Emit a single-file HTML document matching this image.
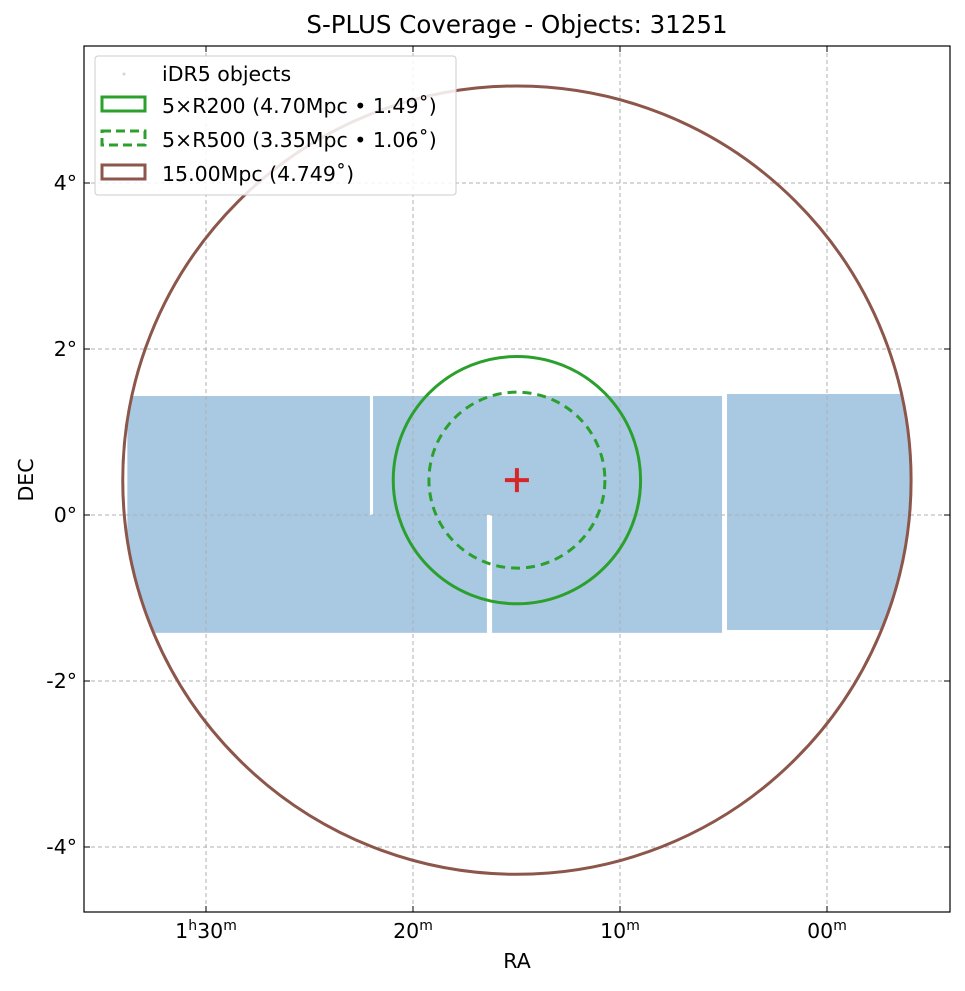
<!DOCTYPE html>
<html><head><meta charset="utf-8"><style>
body{margin:0;background:#fff;font-family:"Liberation Sans","DejaVu Sans",sans-serif}
svg text{font-family:"DejaVu Sans","Liberation Sans",sans-serif;fill:#000}
</style></head><body>
<svg id="chart" width="965" height="986" viewBox="0 0 965 986" xmlns="http://www.w3.org/2000/svg">
<defs><clipPath id="plotclip"><rect x="84" y="46" width="866" height="866"/></clipPath>
<clipPath id="circclip"><circle id="cc" cx="517" cy="480" r="394"/></clipPath></defs>
<rect x="0" y="0" width="965" height="986" fill="#fff"/>
<text x="517" y="33" text-anchor="middle" font-size="24.5">S-PLUS Coverage - Objects: 31251</text>
<g id="tiles" clip-path="url(#circclip)"></g>
<g id="grid"></g>
<g id="circles" clip-path="url(#plotclip)"></g>
<g id="axes"></g>
<text x="517" y="968" text-anchor="middle" font-size="20.5">RA</text>
<text transform="translate(33,480) rotate(-90)" text-anchor="middle" font-size="20.5">DEC</text>
<g>
<rect x="95" y="56" width="361" height="139" rx="3" fill="#fff" fill-opacity="0.85" stroke="#ccc"/>
<circle cx="124" cy="74" r="1.5" fill="#c8d8e6"/>
<text x="162" y="81" font-size="20.5">iDR5 objects</text>
<rect x="102" y="97" width="43" height="14" fill="none" stroke="#2ca02c" stroke-width="3"/>
<text x="162" y="113" font-size="20.5">5×R200 (4.70Mpc • 1.49˚)</text>
<rect x="102" y="131" width="43" height="14" fill="none" stroke="#2ca02c" stroke-width="3" stroke-dasharray="9,5"/>
<text x="162" y="147" font-size="20.5">5×R500 (3.35Mpc • 1.06˚)</text>
<rect x="102" y="165" width="43" height="14" fill="none" stroke="#8c564b" stroke-width="3"/>
<text x="162" y="181" font-size="20.5">15.00Mpc (4.749˚)</text>
</g>
</svg>
<script>
// RA in minutes past 1h, DEC in degrees
const tileRaMax=[33.8,21.93,33.8,16.18,4.83];
const tileRaMin=[22.08,5.07,16.43,5.07,-4.1];
const tileDecMax=[1.434,1.434,0,0,1.458];
const tileDecMin=[0,0,-1.42,-1.42,-1.386];
const xTicks=[30,20,10,0];
const xTickLabels=[["1","h","30","m"],["","","20","m"],["","","10","m"],["","","00","m"]];
const yTicks=[4,2,0,-2,-4];
const yTickLabels=["4°","2°","0°","-2°","-4°"];
const centerRa=[14.98];const centerDec=[0.42];
const circleRadiiDeg=[4.749,1.49,1.06];
const circleNames=["circle-15mpc","circle-5r200","circle-5r500"];
const circleColors=["#8c564b","#2ca02c","#2ca02c"];
const circleDash=["","","9,6"];

const L=84,R=950,T=46,B=912;
const x=ra=>827-ra*20.7;
const y=d=>515-d*83;
const NS="http://www.w3.org/2000/svg";
function mk(t,a,p){const e=document.createElementNS(NS,t);for(const k in a)e.setAttribute(k,a[k]);p.appendChild(e);return e;}
const grid=document.getElementById('grid'),axes=document.getElementById('axes'),tiles=document.getElementById('tiles'),circ=document.getElementById('circles');
document.getElementById('cc').setAttribute('cx',x(centerRa[0]));
document.getElementById('cc').setAttribute('cy',y(centerDec[0]));
document.getElementById('cc').setAttribute('r',circleRadiiDeg[0]*83);
xTicks.forEach((v,i)=>{
 const g=mk('line',{x1:x(v),x2:x(v),y1:T,y2:B,stroke:'#b0b0b0','stroke-dasharray':'4,3','stroke-width':1},grid);
 
 mk('line',{x1:x(v),x2:x(v),y1:B,y2:B-6,stroke:'#000'},axes);
 mk('line',{x1:x(v),x2:x(v),y1:T,y2:T+6,stroke:'#000'},axes);
 const lb=xTickLabels[i];
 const t=mk('text',{x:x(v),y:938,'text-anchor':'middle','font-size':20.5},axes);
 
 if(lb[0]){t.appendChild(document.createTextNode(lb[0]));const s=mk('tspan',{dy:-8,'font-size':14},t);s.textContent=lb[1];const s2=mk('tspan',{dy:8},t);s2.textContent=lb[2];}
 else t.appendChild(document.createTextNode(lb[2]));
 const s3=mk('tspan',{dy:-8,'font-size':14},t);s3.textContent=lb[3];
});
yTicks.forEach((v,i)=>{
 const g=mk('line',{x1:L,x2:R,y1:y(v),y2:y(v),stroke:'#b0b0b0','stroke-dasharray':'4,3','stroke-width':1},grid);
 
 mk('line',{x1:L,x2:L+6,y1:y(v),y2:y(v),stroke:'#000'},axes);
 mk('line',{x1:R,x2:R-6,y1:y(v),y2:y(v),stroke:'#000'},axes);
 const t=mk('text',{x:77,y:y(v)+7,'text-anchor':'end','font-size':20.5},axes);
 
 t.textContent=yTickLabels[i];
});
const fr=mk('rect',{x:L,y:T,width:R-L,height:B-T,fill:'none',stroke:'#000','stroke-width':1.2},axes);

tileRaMax.forEach((_,i)=>{
 const r=mk('rect',{x:x(tileRaMax[i]),y:y(tileDecMax[i]),width:x(tileRaMin[i])-x(tileRaMax[i]),height:y(tileDecMin[i])-y(tileDecMax[i]),fill:'#a9c9e3'},tiles);
 
});
circleRadiiDeg.forEach((rd,i)=>{
 const c=mk('circle',{cx:x(centerRa[0]),cy:y(centerDec[0]),r:rd*83,fill:'none',stroke:circleColors[i],'stroke-width':3},circ);
 if(circleDash[i])c.setAttribute('stroke-dasharray',circleDash[i]);
 
});
const cx=x(centerRa[0]),cy=y(centerDec[0]);
const p=mk('path',{d:`M${cx-12},${cy}H${cx+12}M${cx},${cy-12}V${cy+12}`,stroke:'#d62728','stroke-width':4},circ);

</script>
</body></html>
